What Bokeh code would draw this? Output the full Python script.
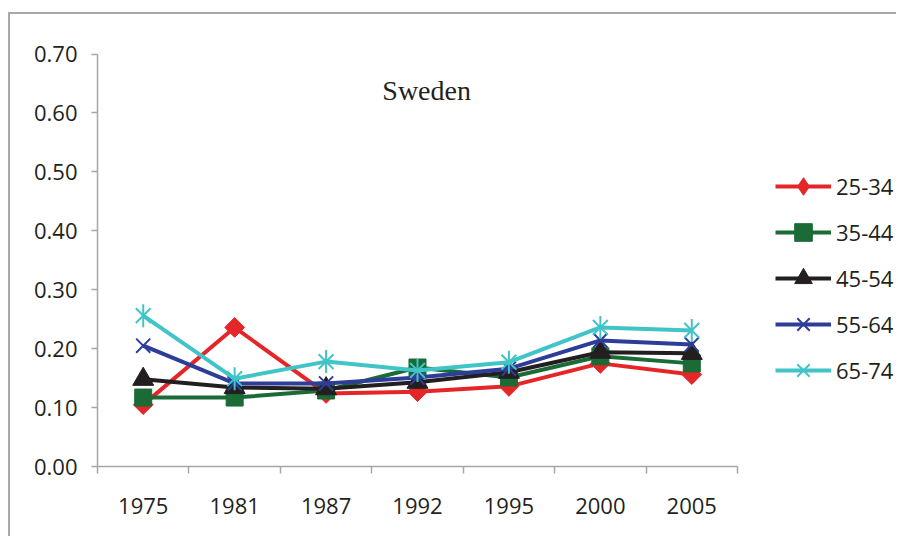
import numpy as np
from bokeh.plotting import figure
from bokeh.models import ColumnDataSource, FixedTicker, PrintfTickFormatter, Range1d, Label
from bokeh.embed import file_html
from bokeh.resources import INLINE

# ---- data ----
years = ["1975", "1981", "1987", "1992", "1995", "2000", "2005"]
age_25_34 = [0.105, 0.236, 0.124, 0.127, 0.136, 0.175, 0.156]
age_35_44 = [0.117, 0.117, 0.129, 0.168, 0.151, 0.187, 0.175]
age_45_54 = [0.148, 0.134, 0.132, 0.143, 0.160, 0.194, 0.192]
age_55_64 = [0.205, 0.141, 0.141, 0.151, 0.166, 0.214, 0.207]
age_65_74 = [0.256, 0.149, 0.178, 0.163, 0.177, 0.236, 0.231]
y_ticks = [0.0, 0.1, 0.2, 0.3, 0.4, 0.5, 0.6, 0.7]
title_text = "Sweden"

# ---- styling ----
TXT = "#231f20"
AX = "#a6a6a6"
FONT = "Open Sans"
LW = 4

xpos = [i + 0.5 for i in range(len(years))]
src = ColumnDataSource(dict(x=xpos, a=age_25_34, b=age_35_44, c=age_45_54,
                            d=age_55_64, e=age_65_74))

p = figure(width=888, height=524, output_backend="svg", toolbar_location=None,
           x_range=Range1d(0, 8.761), y_range=Range1d(0, 0.7484),
           min_border_left=87, min_border_right=0, min_border_top=11,
           min_border_bottom=72,
           styles={"border-left": "2px solid #a8a8a8",
                   "border-top": "2px solid #a8a8a8",
                   "margin-left": "8px",
                   "margin-top": "12px"})
p.outline_line_color = None
p.xgrid.visible = False
p.ygrid.visible = False
p.background_fill_color = "white"

# 25-34
p.line("x", "a", source=src, line_color="#e52629", line_width=LW, legend_label="25-34")
p.scatter("x", "a", source=src, marker="square", angle=np.pi / 4, size=14,
          fill_color="#e52629", line_color="#e52629")
leg_d = p.scatter("x", "a", source=src, marker="diamond", size=20,
                  fill_color="#e52629", line_color="#e52629", legend_label="25-34")
leg_d.visible = False

# 35-44
p.line("x", "b", source=src, line_color="#1a6b36", line_width=LW, legend_label="35-44")
p.scatter("x", "b", source=src, marker="square", size=17,
          fill_color="#1a6b36", line_color="#1a6b36", legend_label="35-44")

# 45-54
p.line("x", "c", source=src, line_color="#231f20", line_width=LW, legend_label="45-54")
p.scatter("x", "c", source=src, marker="triangle", size=21,
          fill_color="#231f20", line_color="#231f20", legend_label="45-54")

# 55-64
p.line("x", "d", source=src, line_color="#2e3d98", line_width=LW, legend_label="55-64")
p.scatter("x", "d", source=src, marker="x", size=20, line_width=2,
          line_color="#2e3d98", legend_label="55-64")

# 65-74
p.line("x", "e", source=src, line_color="#40c4c7", line_width=LW, legend_label="65-74")
p.scatter("x", "e", source=src, marker="x", size=21, line_width=2,
          line_color="#40c4c7", legend_label="65-74")
p.scatter("x", "e", source=src, marker="dash", angle=np.pi / 2, size=23, line_width=2,
          line_color="#40c4c7", legend_label="65-74")

# axes
xa = p.xaxis[0]
xa.ticker = FixedTicker(ticks=xpos, minor_ticks=list(range(len(years) + 1)))
xa.major_label_overrides = {x: y for x, y in zip(xpos, years)}
xa.bounds = (0, len(years))
xa.axis_line_color = AX
xa.axis_line_width = 1.5
xa.major_tick_line_color = None
xa.minor_tick_line_color = AX
xa.minor_tick_line_width = 1.5
xa.minor_tick_in = 0
xa.minor_tick_out = 7
xa.major_label_standoff = 24
xa.major_label_text_font = FONT
xa.major_label_text_font_size = "22px"
xa.major_label_text_color = TXT

ya = p.yaxis[0]
ya.ticker = FixedTicker(ticks=y_ticks, minor_ticks=[])
ya.formatter = PrintfTickFormatter(format="%.2f")
ya.bounds = (0, 0.7)
ya.axis_line_color = AX
ya.axis_line_width = 1.5
ya.major_tick_line_color = AX
ya.major_tick_line_width = 1.5
ya.major_tick_in = 0
ya.major_tick_out = 6
ya.minor_tick_line_color = None
ya.major_label_standoff = 14
ya.major_label_text_font = FONT
ya.major_label_text_font_size = "22px"
ya.major_label_text_color = TXT

# title
p.add_layout(Label(x=3.6, y=0.638, text=title_text, text_align="center",
                   text_baseline="alphabetic", text_font="Liberation Serif",
                   text_font_size="28px", text_color=TXT))

# legend
lg = p.legend[0]
lg.location = (678, 74)
lg.border_line_color = None
lg.background_fill_alpha = 0
lg.padding = 0
lg.margin = 0
lg.glyph_width = 56
lg.glyph_height = 44
lg.label_height = 44
lg.spacing = 2
lg.label_standoff = 5
lg.label_text_font = FONT
lg.label_text_font_size = "22px"
lg.label_text_color = TXT

open("out.html", "w").write(file_html(p, INLINE))
